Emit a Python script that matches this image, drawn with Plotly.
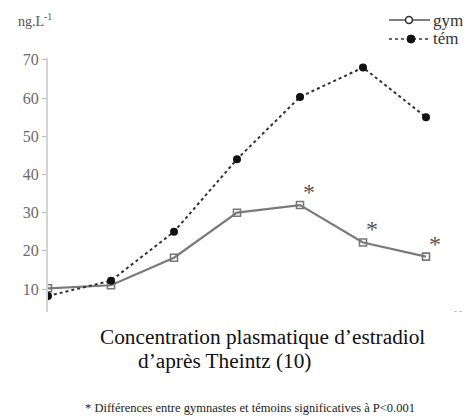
import plotly.graph_objects as go

x_idx = [0, 1, 2, 3, 4, 5, 6]
gym = [10.2, 11.0, 18.2, 30.0, 32.0, 22.2, 18.5]
tem = [8.2, 12.2, 25.0, 44.0, 60.3, 68.0, 55.0]
signif_idx = [4, 5, 6]
y_ticks = [10, 20, 30, 40, 50, 60, 70]
series_names = ["gym", "t\u00e9m"]

# the page body adds an 8px margin: lay the figure out in screen pixels minus it
OFF = 8
SW, SH = 474, 416                      # screen size
W, H = SW - OFF, SH - OFF              # figure size
PLOT_L, PLOT_T, PLOT_B = 48, 58, 312   # plot box in screen pixels
ML, MR = PLOT_L - OFF, 0
MT = PLOT_T - OFF
MB = SH - PLOT_B
PW, PH = W - ML - MR, H - MT - MB
XPX = 63.0   # px per x unit
YPX = 3.82   # px per y unit

serif = "Liberation Serif"

gym_col = "#777777"
tem_col = "#333333"

fig = go.Figure()
fig.add_trace(go.Scatter(x=x_idx, y=gym, name=series_names[0], mode="lines+markers",
                         line=dict(color="#7a7a7a", width=2.2),
                         marker=dict(symbol="square-open", size=7, color=gym_col,
                                     line=dict(width=1.6))))
fig.add_trace(go.Scatter(x=x_idx, y=tem, name=series_names[1], mode="lines+markers",
                         line=dict(color=tem_col, width=2, dash="dot"),
                         marker=dict(symbol="circle", size=8, color="#111111")))

for i in signif_idx:
    fig.add_annotation(x=x_idx[i], y=gym[i], text="*", showarrow=False,
                       xshift=9, yshift=13, yanchor="middle",
                       font=dict(family=serif, size=24, color="#555555"))

def px(xs):
    return (xs - OFF - ML) / PW

def py(ys):
    return (H - MB - (ys - OFF)) / PH

def label(xs, ys, text, size, color, xanchor="left"):
    fig.add_annotation(x=px(xs), y=py(ys), xref="paper", yref="paper",
                       text=text, showarrow=False, xanchor=xanchor, yanchor="middle",
                       font=dict(family=serif, size=size, color=color))

# legend (swatches as shapes, labels as text), positioned in screen pixels
leg_rows = [20, 39]
fig.add_shape(type="line", xref="paper", yref="paper",
              x0=px(389), x1=px(430), y0=py(leg_rows[0]), y1=py(leg_rows[0]),
              line=dict(color="#555555", width=1.6))
fig.add_shape(type="circle", xref="paper", yref="paper",
              xsizemode="pixel", ysizemode="pixel",
              xanchor=px(409), yanchor=py(leg_rows[0]),
              x0=-3.5, x1=3.5, y0=-3.5, y1=3.5,
              line=dict(color="#333333", width=1.6), fillcolor="white")
fig.add_shape(type="line", xref="paper", yref="paper",
              x0=px(389), x1=px(430), y0=py(leg_rows[1]), y1=py(leg_rows[1]),
              line=dict(color="#666666", width=1.8, dash="dot"))
fig.add_shape(type="circle", xref="paper", yref="paper",
              xsizemode="pixel", ysizemode="pixel",
              xanchor=px(411), yanchor=py(leg_rows[1]),
              x0=-4, x1=4, y0=-4, y1=4,
              line=dict(color="#111111", width=1), fillcolor="#111111")
for name, ypix in zip(series_names, leg_rows):
    label(431, ypix, name, 17, "#333333")

label(16, 20, "ng.L<sup>-1</sup>", 14, "#555555")
label(263, 337, "Concentration plasmatique d\u2019estradiol", 21.3, "#111111", "center")
label(136, 361, "d\u2019apr\u00e8s Theintz (10)", 21.3, "#111111")
label(250, 408, "* Diff\u00e9rences entre gymnastes et t\u00e9moins significatives \u00e0 P<0.001",
      12.5, "#222222", "center")
label(458, 311, "- -", 9, "#999999", "center")

fig.update_layout(
    width=W, height=H,
    margin=dict(l=ML, r=MR, t=MT, b=MB, autoexpand=False),
    paper_bgcolor="white", plot_bgcolor="white",
    showlegend=False,
    xaxis=dict(range=[0, PW / XPX], visible=False),
    yaxis=dict(range=[4, 4 + PH / YPX], tickvals=y_ticks, showgrid=False,
               zeroline=False, showline=True, linecolor="#d4d4d4", linewidth=2,
               ticks="outside", ticklen=4, tickcolor="#bbbbbb",
               tickfont=dict(family=serif, size=16, color="#6a6a6a")),
)

fig.write_html("out.html")
